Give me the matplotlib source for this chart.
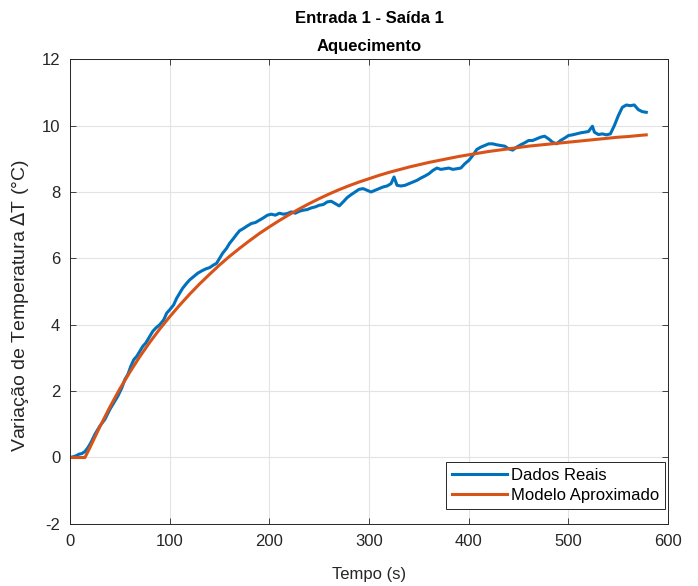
import numpy as np
import matplotlib
matplotlib.use('Agg')
import matplotlib.pyplot as plt

plt.rcParams['font.family'] = ['Liberation Sans', 'DejaVu Sans']
plt.rcParams['axes.unicode_minus'] = False

# measured data (time in s, delta T in C)
t_real = [0, 3, 6, 9, 12, 15, 18, 21, 25, 30, 35, 40, 45, 48, 52, 55, 58, 61, 64, 67,
          70, 73, 76, 80, 83, 86, 90, 94, 97, 100, 104, 107, 110, 113, 117, 120, 124, 128,
          132, 136, 140, 144, 147, 150, 153, 157, 160, 164, 167, 170, 174, 178, 182, 186,
          190, 194, 198, 202, 206, 210, 214, 218, 222, 226, 230, 234, 238, 242, 246, 250,
          254, 258, 262, 266, 270, 274, 278, 282, 286, 290, 294, 298, 302, 306, 310, 314,
          318, 322, 325, 328, 332, 336, 340, 344, 348, 352, 356, 360, 364, 368, 372, 376,
          380, 384, 388, 392, 396, 400, 404, 408, 412, 416, 420, 424, 428, 432, 436, 440,
          444, 448, 452, 456, 460, 464, 468, 472, 476, 480, 484, 488, 492, 496, 500, 504,
          508, 512, 516, 520, 524, 526, 530, 534, 538, 542, 546, 550, 554, 558, 562, 566,
          570, 574, 578]
y_real = [0.0, 0.02, 0.05, 0.1, 0.12, 0.18, 0.3, 0.45, 0.7, 0.95, 1.15, 1.45, 1.7, 1.85,
          2.1, 2.35, 2.5, 2.75, 2.95, 3.05, 3.2, 3.35, 3.45, 3.65, 3.8, 3.9, 4.0, 4.15, 4.35,
          4.45, 4.6, 4.8, 4.95, 5.1, 5.25, 5.35, 5.45, 5.55, 5.62, 5.68, 5.72, 5.8, 5.85, 6.0,
          6.15, 6.3, 6.45, 6.6, 6.72, 6.83, 6.9, 6.98, 7.05, 7.08, 7.15, 7.22, 7.3, 7.33, 7.3,
          7.36, 7.33, 7.35, 7.4, 7.36, 7.42, 7.45, 7.47, 7.52, 7.55, 7.6, 7.62, 7.7, 7.72,
          7.65, 7.58, 7.7, 7.83, 7.92, 8.0, 8.08, 8.1, 8.05, 8.0, 8.05, 8.1, 8.15, 8.18, 8.25,
          8.45, 8.2, 8.18, 8.2, 8.25, 8.3, 8.35, 8.42, 8.48, 8.55, 8.65, 8.72, 8.68, 8.7,
          8.72, 8.68, 8.7, 8.72, 8.85, 8.95, 9.1, 9.28, 9.35, 9.4, 9.45, 9.45, 9.42, 9.4,
          9.38, 9.3, 9.26, 9.35, 9.42, 9.48, 9.55, 9.55, 9.6, 9.65, 9.68, 9.6, 9.5, 9.45,
          9.55, 9.62, 9.7, 9.72, 9.75, 9.78, 9.8, 9.82, 9.98, 9.8, 9.73, 9.75, 9.72, 9.75,
          10.0, 10.3, 10.55, 10.62, 10.6, 10.62, 10.48, 10.42, 10.4]

# approximated model
t_model = [0, 15, 20, 30, 40, 50, 60, 70, 80, 90, 100, 110, 120, 130, 140, 150, 160, 170,
           180, 190, 200, 210, 220, 230, 240, 250, 260, 270, 280, 290, 300, 310, 320, 330,
           340, 350, 360, 370, 380, 390, 400, 410, 420, 430, 440, 450, 460, 470, 480, 490,
           500, 510, 520, 530, 540, 550, 560, 570, 578]
y_model = [0, 0, 0.3, 0.93, 1.52, 2.07, 2.57, 3.04, 3.47, 3.87, 4.24, 4.59, 4.92, 5.23,
           5.52, 5.8, 6.06, 6.3, 6.53, 6.75, 6.95, 7.14, 7.32, 7.49, 7.65, 7.8, 7.94, 8.07,
           8.19, 8.3, 8.4, 8.5, 8.59, 8.67, 8.75, 8.82, 8.89, 8.95, 9.01, 9.07, 9.12, 9.17,
           9.22, 9.26, 9.3, 9.34, 9.38, 9.41, 9.44, 9.47, 9.5, 9.53, 9.56, 9.59, 9.62, 9.65,
           9.67, 9.7, 9.72]

fig = plt.figure(figsize=(6.98, 5.86), dpi=100)
ax = fig.add_axes([0.1003, 0.106, 0.857, 0.793])

ax.plot(t_real, y_real, color='#0072BD', lw=2.2, label='Dados Reais')
ax.plot(t_model, y_model, color='#D95319', lw=2.2, label='Modelo Aproximado')

ax.set_xlim(0, 600)
ax.set_ylim(-2, 12)
ax.set_xticks(np.arange(0, 601, 100))
ax.set_yticks(np.arange(-2, 13, 2))
ax.grid(True, color='#e3e3e3', lw=0.8)
ax.set_axisbelow(True)
ax.tick_params(direction='in', top=True, right=True, labelsize=12, colors='#262626',
               length=4, width=0.6)
ax.tick_params(axis='x', pad=7)
ax.tick_params(axis='y', pad=7)
for s in ax.spines.values():
    s.set_color('#262626')
    s.set_linewidth(0.7)

ax.set_xlabel('Tempo (s)', fontsize=12, color='#262626', labelpad=13)
ax.set_ylabel('Variação de Temperatura $\\Delta$T (°C)', fontsize=14, color='#262626')
ax.yaxis.set_label_coords(-0.066, 0.47)
ax.set_title('Entrada 1 - Saída 1\nAquecimento', fontsize=12, fontweight='bold',
             color='black', linespacing=2.1, pad=6)

leg = ax.legend(loc='lower right', bbox_to_anchor=(0.995, 0.032), fontsize=12,
                handlelength=3.3, fancybox=False, edgecolor='#262626', framealpha=1,
                borderpad=0.35, labelspacing=0.3, handletextpad=0.25, borderaxespad=0)
leg.get_frame().set_linewidth(0.7)

plt.savefig('out.png', dpi=100)
